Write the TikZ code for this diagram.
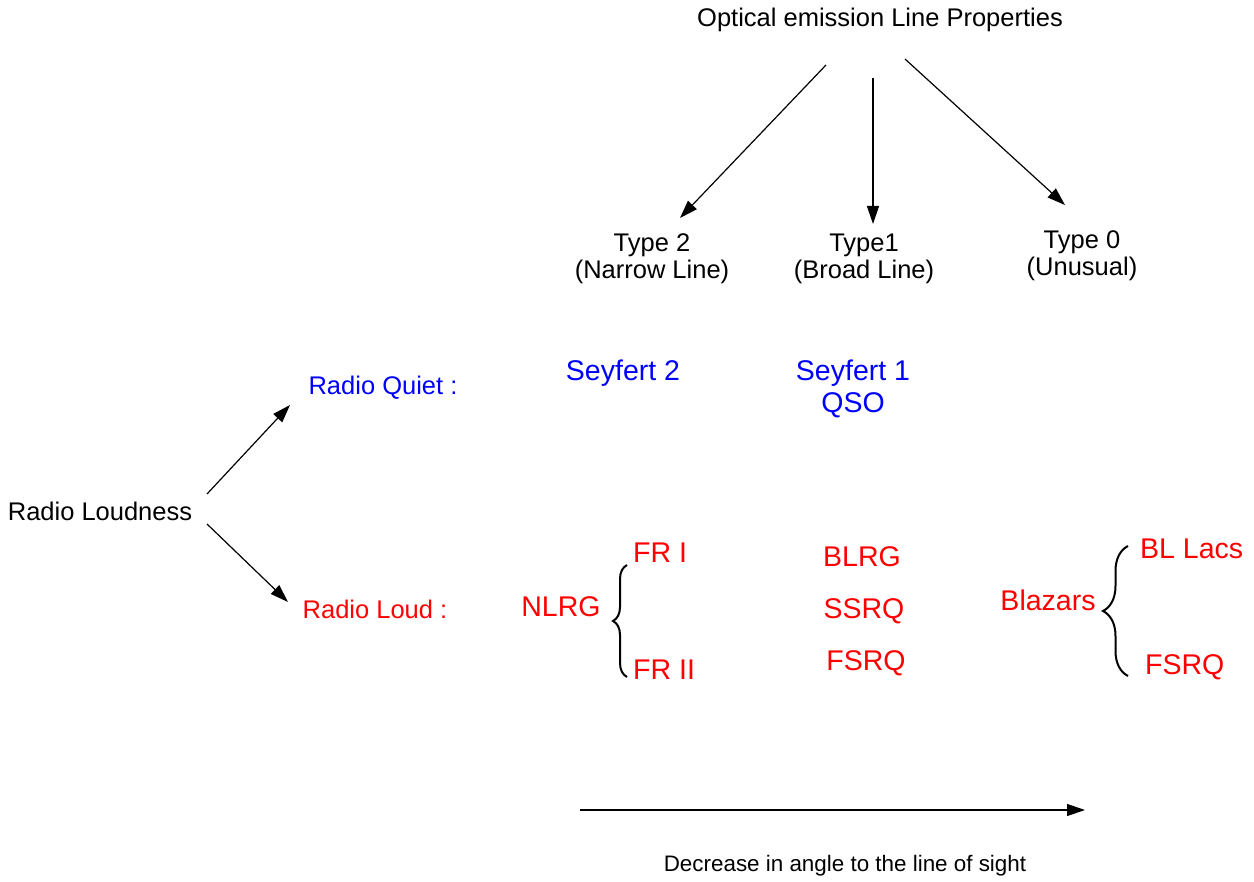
\documentclass[tikz,border=0pt]{standalone}
\definecolor{quietblue}{RGB}{0, 0, 255}
\definecolor{loudred}{RGB}{255, 0, 0}
\usepackage{fontspec}
\setmainfont{Liberation Sans}
\usepackage{tikz}
\usetikzlibrary{arrows.meta, positioning, decorations.pathreplacing}

\tikzset{
  lbl/.style={font=\fontsize{25.5}{27}\selectfont, align=center, inner sep=0pt},
  big/.style={font=\fontsize{28.5}{32}\selectfont, align=center, inner sep=0pt},
  arr/.style={line width=1.2pt, -{Triangle[length=18pt, width=12pt]}},
  bracebar/.style={line width=2pt, decorate, decoration={brace, amplitude=#1}}
}

\begin{document}
\begin{tikzpicture}[x=1pt, y=-1pt]
  \useasboundingbox (0,0) rectangle (1254,882);

  % optical line classes
  \node[lbl] (title) at (880,20) {Optical emission Line Properties};
  \node[lbl] (type2) at (652,259) {Type 2\\(Narrow Line)};
  \node[lbl] (type1) at (864,259) {Type1\\(Broad Line)};
  \node[lbl] (type0) at (1082,256) {Type 0\\(Unusual)};

  \draw[arr] ([shift={(-54,45)}]title.center) -- ([shift={(28,-41)}]type2.center);
  \draw[arr] ([shift={(-7,58)}]title.center) -- ([shift={(9,-35)}]type1.center);
  \draw[arr] ([shift={(25,39)}]title.center) -- ([shift={(-17,-51)}]type0.center);

  % radio loudness
  \node[lbl] (loudness) at (100,511) {Radio Loudness};
  \node[lbl, text=quietblue] (quiet) at (383,388) {Radio Quiet :};
  \node[lbl, text=loudred] (loud) at (375,609) {Radio Loud :};

  \draw[arr] ([shift={(107,-17)}]loudness.center) -- ([shift={(-93,17)}]quiet.center);
  \draw[arr] ([shift={(107,13)}]loudness.center) -- ([shift={(-87,-7)}]loud.center);

  % radio quiet objects
  \node[big, text=quietblue] (sey2) at (623,373) {Seyfert 2};
  \node[big, text=quietblue] (sey1) at (853,389) {Seyfert 1\\QSO};

  % radio loud objects
  \node[big, text=loudred] (nlrg) at (561,607) {NLRG};
  \node[big, text=loudred, anchor=west] (fr1) at (633,553) {FR I};
  \node[big, text=loudred, anchor=west] (fr2) at (633,670) {FR II};
  \draw[bracebar=14pt] (627,677) -- (627,565);

  \node[big, text=loudred] (blrg) at (862,557) {BLRG};
  \node[big, text=loudred] (ssrq) at (864,611) {SSRQ};
  \node[big, text=loudred] (fsrq) at (866,663) {FSRQ};

  \node[big, text=loudred] (blazars) at (1048,600) {Blazars};
  \node[big, text=loudred, anchor=west] (bllacs) at (1140,549) {BL Lacs};
  \node[big, text=loudred, anchor=west] (fsrqb) at (1145,667) {FSRQ};
  \draw[bracebar=25pt] (1128,676) -- (1128,546);

  % viewing angle
  \node[font=\fontsize{22.4}{26}\selectfont, inner sep=0pt] (angle) at (845,866) {Decrease in angle to the line of sight};
  \draw[arr] ([shift={(-265,-56)}]angle.center) -- ([shift={(240,-56)}]angle.center);
\end{tikzpicture}
\end{document}
